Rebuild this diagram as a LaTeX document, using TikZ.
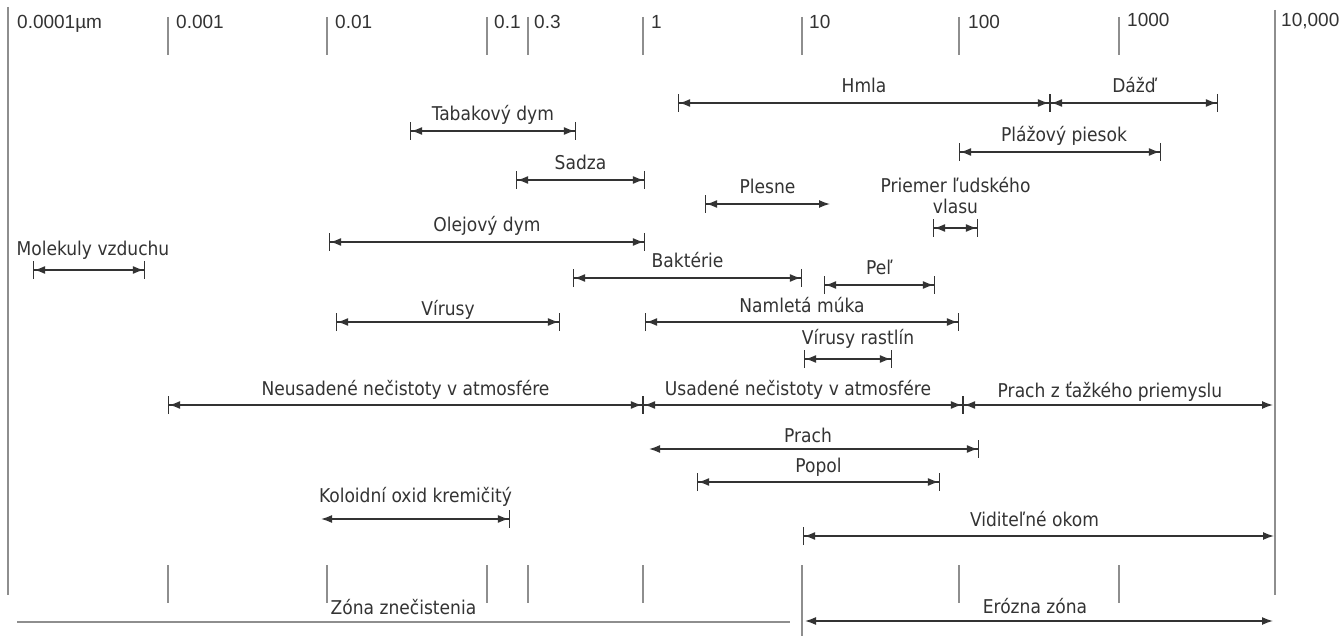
\documentclass[tikz,border=0pt]{standalone}
\usepackage{fontspec}
\setmainfont{DejaVu Sans Condensed}
\newfontfamily\axisfont{Liberation Sans}
\usepackage{tikz}
\usetikzlibrary{positioning, arrows.meta}

\definecolor{tickgray}{HTML}{8E8E8E}
\definecolor{arrgray}{HTML}{333333}
\definecolor{txtgray}{HTML}{333333}

\tikzset{
  rng/.style={draw=arrgray, line width=1.5pt,
    {Bar[width=18pt,line width=1.1pt]Latex[length=11pt,width=8pt]}-{Latex[length=11pt,width=8pt]Bar[width=18pt,line width=1.1pt]}},
  rngl/.style={draw=arrgray, line width=1.5pt,
    {Bar[width=18pt,line width=1.1pt]Latex[length=11pt,width=8pt]}-{Latex[length=11pt,width=8pt]}},
  rngr/.style={draw=arrgray, line width=1.5pt,
    {Latex[length=11pt,width=8pt]}-{Latex[length=11pt,width=8pt]Bar[width=18pt,line width=1.1pt]}},
  rngn/.style={draw=arrgray, line width=1.5pt,
    {Latex[length=11pt,width=8pt]}-{Latex[length=11pt,width=8pt]}},
  lbl/.style={font=\fontsize{19}{21}\selectfont, text=txtgray, anchor=base,
    inner sep=0pt, yshift=10pt},
  axlbl/.style={font=\axisfont\fontsize{19}{21}\selectfont, text=txtgray,
    anchor=base west, inner sep=0pt},
  tick/.style={draw=tickgray, line width=1.3pt}
}

\begin{document}
\begin{tikzpicture}[x=1pt, y=-1pt]
\useasboundingbox (0,0) rectangle (1343,636);

% scale lines
\draw[tick] (8,7) -- (8,595);
\draw[tick] (1275,10) -- (1275,595);
\draw[tick] (168,17) -- (168,55);
\draw[tick] (327,17) -- (327,55);
\draw[tick] (487,17) -- (487,55);
\draw[tick] (528,17) -- (528,55);
\draw[tick] (643,17) -- (643,55);
\draw[tick] (802,17) -- (802,55);
\draw[tick] (959,17) -- (959,55);
\draw[tick] (1119,17) -- (1119,55);

\draw[tick] (168,565) -- (168,603);
\draw[tick] (327,565) -- (327,603);
\draw[tick] (487,565) -- (487,603);
\draw[tick] (528,565) -- (528,603);
\draw[tick] (643,565) -- (643,603);
\draw[tick] (802,565) -- (802,636);
\draw[tick] (959,565) -- (959,603);
\draw[tick] (1119,565) -- (1119,603);

\node[axlbl] (ax0) at (17,29) {0.0001µm};
\node[axlbl] (ax1) at (176,29) {0.001};
\node[axlbl] (ax2) at (335,29) {0.01};
\node[axlbl] (ax3) at (494,29) {0.1};
\node[axlbl] (ax4) at (534,29) {0.3};
\node[axlbl] (ax5) at (651,29) {1};
\node[axlbl] (ax6) at (809,29) {10};
\node[axlbl] (ax7) at (968,29) {100};
\node[axlbl] (ax8) at (1127,27) {1000};
\node[axlbl] (ax9) at (1281,27) {10,000};

% end points of the ranges
\coordinate (hmla-l) at (678,103);
\coordinate (hmla-r) at (1050,103);
\coordinate (dazd-r) at (1218,103);
\coordinate (tabak-l) at (410,131);
\coordinate (tabak-r) at (576,131);
\coordinate (plaz-l) at (959,152);
\coordinate (plaz-r) at (1161,152);
\coordinate (sadza-l) at (516,180);
\coordinate (sadza-r) at (645,180);
\coordinate (plesne-l) at (705,204);
\coordinate (plesne-r) at (830,204);
\coordinate (vlas-l) at (933,228);
\coordinate (vlas-r) at (978,228);
\coordinate (olej-l) at (329,242);
\coordinate (olej-r) at (645,242);
\coordinate (molek-l) at (33,270);
\coordinate (molek-r) at (145,270);
\coordinate (bakt-l) at (573,278);
\coordinate (bakt-r) at (802,278);
\coordinate (pel-l) at (824,285);
\coordinate (pel-r) at (935,285);
\coordinate (virusy-l) at (336,322);
\coordinate (virusy-r) at (560,322);
\coordinate (muka-l) at (645,322);
\coordinate (muka-r) at (959,322);
\coordinate (rast-l) at (804,359);
\coordinate (rast-r) at (892,359);
\coordinate (neus-l) at (168,405);
\coordinate (neus-r) at (643,405);
\coordinate (usad-r) at (963,405);
\coordinate (tazky-r) at (1273,405);
\coordinate (prach-l) at (649,449);
\coordinate (prach-r) at (979,449);
\coordinate (popol-l) at (697,482);
\coordinate (popol-r) at (940,482);
\coordinate (kolo-l) at (321,519);
\coordinate (kolo-r) at (510,519);
\coordinate (vidit-l) at (803,536);
\coordinate (vidit-r) at (1274,536);
\coordinate (zona-l) at (17,622);
\coordinate (zona-r) at (790,622);
\coordinate (eroz-l) at (805,621);
\coordinate (eroz-r) at (1273,621);

% ranges
\draw[rng] (hmla-l) -- node[lbl] (hmla) {Hmla} (hmla-r);
\draw[rng] (hmla-r) -- node[lbl] (dazd) {Dážď} (dazd-r);
\draw[rng] (tabak-l) -- node[lbl] (tabak) {Tabakový dym} (tabak-r);
\draw[rng] (plaz-l) -- node[lbl, xshift=4pt] (plaz) {Plážový piesok} (plaz-r);
\draw[rng] (sadza-l) -- node[lbl] (sadza) {Sadza} (sadza-r);
\draw[rngl] (plesne-l) -- node[lbl] (plesne) {Plesne} (plesne-r);
\draw[rng] (vlas-l) -- node[lbl, anchor=south, yshift=3pt, align=center] (vlas) {Priemer ľudského\\vlasu} (vlas-r);
\draw[rng] (olej-l) -- node[lbl] (olej) {Olejový dym} (olej-r);
\draw[rng] (molek-l) -- node[lbl, yshift=4pt, xshift=4pt] (molek) {Molekuly vzduchu} (molek-r);
\draw[rng] (bakt-l) -- node[lbl] (bakt) {Baktérie} (bakt-r);
\draw[rng] (pel-l) -- node[lbl] (pel) {Peľ} (pel-r);
\draw[rng] (virusy-l) -- node[lbl, yshift=-3pt] (virusy) {Vírusy} (virusy-r);
\draw[rng] (muka-l) -- node[lbl] (muka) {Namletá múka} (muka-r);
\draw[rng] (rast-l) -- node[lbl, yshift=5pt, xshift=10pt] (rast) {Vírusy rastlín} (rast-r);
\draw[rng] (neus-l) -- node[lbl] (neus) {Neusadené nečistoty v atmosfére} (neus-r);
\draw[rng] (neus-r) -- node[lbl, xshift=-5pt] (usad) {Usadené nečistoty v atmosfére} (usad-r);
\draw[rngl] (usad-r) -- node[lbl, xshift=-8pt, yshift=-2pt] (tazky) {Prach z ťažkého priemyslu} (tazky-r);
\draw[rngr] (prach-l) -- node[lbl, xshift=-6pt, yshift=-3pt] (prach) {Prach} (prach-r);
\draw[rng] (popol-l) -- node[lbl] (popol) {Popol} (popol-r);
\draw[rngr] (kolo-l) -- node[lbl, yshift=7pt] (kolo) {Koloidní oxid kremičitý} (kolo-r);
\draw[rngl] (vidit-l) -- node[lbl, xshift=-4pt] (vidit) {Viditeľné okom} (vidit-r);

% zones
\draw[tick] (zona-l) -- node[lbl, yshift=-2pt] (zona) {Zóna znečistenia} (zona-r);
\draw[rngn] (eroz-l) -- node[lbl, xshift=-4pt, yshift=-2pt] (eroz) {Erózna zóna} (eroz-r);
\end{tikzpicture}
\end{document}
